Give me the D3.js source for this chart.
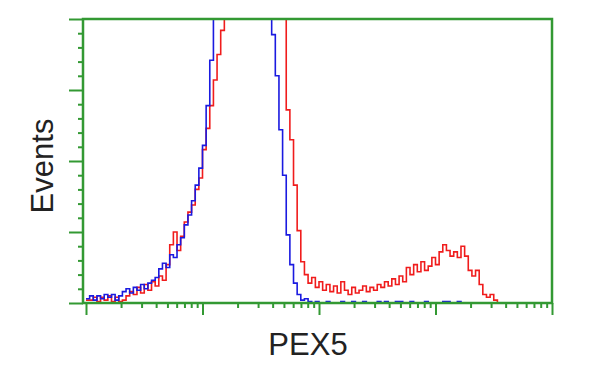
<!DOCTYPE html>
<html>
<head>
<meta charset="utf-8">
<script src="https://cdn.jsdelivr.net/npm/d3@7"></script>
<style>
  body { margin: 0; background: #fff; }
  svg { display: block; }
  .label { font-family: "Liberation Sans", Arial, sans-serif; fill: #222; }
</style>
</head>
<body>
<div id="chart"></div>
<script>
//******************************************************************************
//**  Histogram data (counts per bin, 2 log channels per bin, 64 ch/decade)
//******************************************************************************
var channelsPerBin = 2;
var decadeTicks = [1, 10, 100, 1000, 10000];
var eventTicks = [0, 50, 100, 150, 200];

var redCounts = [
    2,2,4,1,4,2,5,1,4,1, 2,5,8,6,11,7,13,9,15,12,
    19,16,27,41,50,37,47,57,64,69, 80,88,108,123,139,157,175,192,215,250,
    290,330,380,420,460,490,510,520,510,480, 440,380,320,260,215,136,115,83,51,29,
    20,14,18,11,15,9,13,8,12,7, 15,9,6,11,7,9,12,8,11,9,
    13,11,15,12,17,13,19,15,25,20, 27,22,29,23,26,32,27,36,41,37,
    33,36,32,40,33,23,19,23,13,6, 4,6,2
];

var blueCounts = [
    3,5,2,5,3,6,4,6,2,5, 8,10,7,11,9,13,10,14,16,18,
    24,28,25,34,32,41,46,55,62,72, 83,95,111,139,171,230,280,340,400,450,
    490,520,540,550,545,520,480,420,350,290, 240,189,160,122,90,48,27,14,6,2,
    3,1,0,1,0,0,1,0,0,0, 1,0,0,1,0,0,1,0,0,0,
    1,0,1,0,0,1,1,0,0,1, 0,0,0,1,0,0,0,0,1,1,
    0,0,1,0
];


//******************************************************************************
//**  Layout
//******************************************************************************
var width = 600, height = 375;
var plotLeft = 83, plotRight = 552, plotTop = 19, plotBottom = 303;
var green = "#339933";

var svg = d3.select("#chart").append("svg")
    .attr("width", width)
    .attr("height", height);

var x = d3.scaleLinear().domain([0, 256]).range([86, 552]);
var xLog = d3.scaleLog().domain([1, 10000]).range([86, 552]);
var y = d3.scaleLinear().domain([0, 200]).range([plotBottom, plotTop]);

svg.append("clipPath").attr("id", "plotClip")
  .append("rect")
    .attr("x", plotLeft).attr("y", plotTop)
    .attr("width", plotRight - plotLeft).attr("height", plotBottom - plotTop);


//**************************************************************************
//** drawHistogram
//**************************************************************************
var drawHistogram = function(counts, color){
    var pts = counts.map(function(c, i){ return [i*channelsPerBin, c]; });
    pts.push([counts.length*channelsPerBin, 0]);
    var line = d3.line()
        .x(function(d){ return x(d[0]); })
        .y(function(d){ return y(d[1]); })
        .curve(d3.curveStepAfter);
    svg.append("path")
        .attr("clip-path", "url(#plotClip)")
        .attr("d", line(pts))
        .attr("fill", "none")
        .attr("stroke", color)
        .attr("stroke-width", 1.6);
};

drawHistogram(redCounts, "#f01c1c");
drawHistogram(blueCounts, "#1a1ae0");


//**************************************************************************
//** Axes (major + minor ticks, green frame)
//**************************************************************************
var frame = svg.append("g").attr("class", "frame");

var minorY = d3.range(0, 201, 10).filter(function(v){ return eventTicks.indexOf(v) < 0; });
var minorX = [];
decadeTicks.slice(0, -1).forEach(function(d){
    for (var k = 2; k <= 9; k++) minorX.push(d*k);
});

var styleAxis = function(g){
    g.select(".domain").remove();
    g.selectAll("text").remove();
    g.selectAll("line").attr("stroke", green).attr("stroke-width", 2);
};

frame.append("g").attr("transform", "translate(" + plotLeft + ",0)")
    .call(d3.axisLeft(y).tickValues(eventTicks).tickSize(14).tickSizeOuter(0))
    .call(styleAxis);
frame.append("g").attr("transform", "translate(" + plotLeft + ",0)")
    .call(d3.axisLeft(y).tickValues(minorY).tickSize(5).tickSizeOuter(0))
    .call(styleAxis);

frame.append("g").attr("transform", "translate(0," + plotBottom + ")")
    .call(d3.axisBottom(xLog).tickValues(decadeTicks).tickSize(12).tickSizeOuter(0))
    .call(styleAxis);
frame.append("g").attr("transform", "translate(0," + plotBottom + ")")
    .call(d3.axisBottom(xLog).tickValues(minorX).tickSize(5).tickSizeOuter(0))
    .call(styleAxis);

frame.append("rect")
    .attr("x", plotLeft).attr("y", plotTop)
    .attr("width", plotRight - plotLeft).attr("height", plotBottom - plotTop)
    .attr("fill", "none")
    .attr("stroke", green)
    .attr("stroke-width", 2.5);


//**************************************************************************
//** Labels
//**************************************************************************
svg.append("text")
    .attr("class", "label")
    .attr("transform", "translate(53,166) rotate(-90)")
    .attr("text-anchor", "middle")
    .style("font-size", "31px")
    .text("Events");

svg.append("text")
    .attr("class", "label")
    .attr("x", 308).attr("y", 355)
    .attr("text-anchor", "middle")
    .style("font-size", "31px")
    .text("PEX5");
</script>
</body>
</html>
